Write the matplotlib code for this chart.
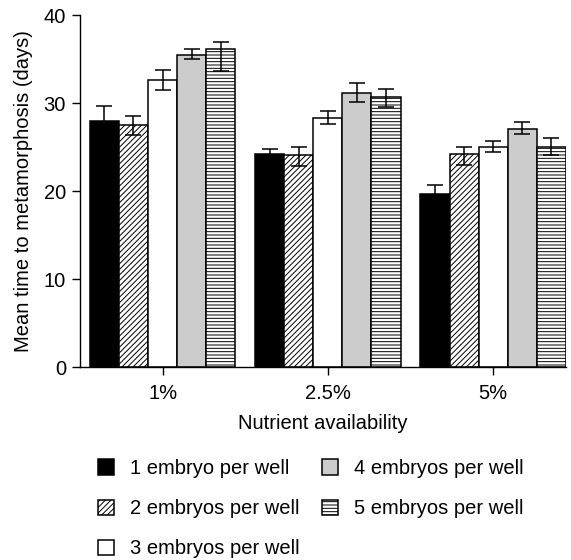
import matplotlib
matplotlib.use("Agg")
import matplotlib.pyplot as plt
import numpy as np

plt.rcParams['font.family'] = ['Liberation Sans', 'DejaVu Sans']
plt.rcParams['hatch.linewidth'] = 0.7

groups = ["1%", "2.5%", "5%"]
labels = ["1 embryo per well", "2 embryos per well", "3 embryos per well",
          "4 embryos per well", "5 embryos per well"]

# mean time to metamorphosis (days)
n1 = [28.0, 24.2, 19.7]
n2 = [27.5, 24.1, 24.2]
n3 = [32.6, 28.3, 25.0]
n4 = [35.5, 31.1, 27.1]
n5 = [36.1, 30.7, 25.0]

# error bars (upper / lower)
n1_up = [1.7, 0.6, 1.0]
n2_up = [1.0, 0.9, 0.8]
n3_up = [1.2, 0.8, 0.7]
n4_up = [0.6, 1.2, 0.7]
n5_up = [0.8, 0.9, 1.0]
n1_lo = [1.7, 0.6, 1.0]
n2_lo = [1.1, 1.2, 1.2]
n3_lo = [1.1, 0.7, 0.6]
n4_lo = [0.5, 1.0, 0.6]
n5_lo = [2.4, 1.1, 0.9]

means = [n1, n2, n3, n4, n5]
ups = [n1_up, n2_up, n3_up, n4_up, n5_up]
los = [n1_lo, n2_lo, n3_lo, n4_lo, n5_lo]
faces = ['black', 'white', 'white', '#cccccc', 'white']
hatches = [None, '//////', None, None, '-----']

fig = plt.figure(figsize=(5.71, 5.60), dpi=100)
ax = fig.add_axes([0.140, 0.3446, 0.851, 0.6284])

x = np.arange(len(groups))
w = 0.176
for i in range(5):
    pos = x + (i - 2) * w
    ax.bar(pos, means[i], width=w, color=faces[i], edgecolor='black',
           linewidth=1.1, hatch=hatches[i], label=labels[i], zorder=2)
    ax.errorbar(pos, means[i], yerr=[los[i], ups[i]], fmt='none',
                ecolor='black', elinewidth=1.1, capsize=5.5, capthick=1.1, zorder=3)

ax.set_xlim(-0.5, 2.44)
ax.set_ylim(0, 40)
ax.set_yticks([0, 10, 20, 30, 40])
ax.set_xticks(x)
ax.set_xticklabels(groups)
ax.spines['top'].set_visible(False)
ax.spines['right'].set_visible(False)
ax.spines['left'].set_linewidth(1.0)
ax.spines['bottom'].set_linewidth(1.0)
ax.tick_params(axis='both', direction='out', length=6, width=1.0, labelsize=14.5, pad=4)
ax.tick_params(axis='x', pad=6)
ax.set_ylabel("Mean time to metamorphosis (days)", fontsize=14.5, labelpad=8)
ax.set_xlabel("Nutrient availability", fontsize=14.5, labelpad=8)

fig.legend(loc='upper left', bbox_to_anchor=(0.171, 0.180), ncol=2, frameon=False,
           fontsize=14.5, handlelength=0.8, handleheight=0.8, handletextpad=0.8,
           columnspacing=1.1, labelspacing=1.05, borderpad=0, borderaxespad=0)

fig.savefig("out.png", dpi=100)
